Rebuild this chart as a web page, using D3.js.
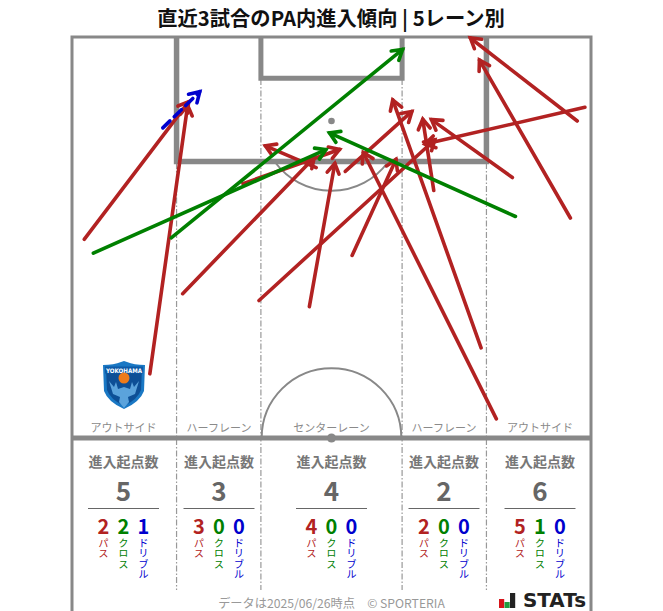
<!DOCTYPE html>
<html><head><meta charset="utf-8">
<script src="https://cdn.jsdelivr.net/npm/d3@7/dist/d3.min.js"></script>
<style>html,body{margin:0;padding:0;background:#fff}svg{display:block}text{font-family:"Noto Sans CJK JP","Noto Sans",sans-serif}</style>
</head><body><svg id="c" width="663" height="611"></svg>
<script>
// pitch metres: x 0-68 across, y 0-52.5 from halfway line to goal line
const passes=[[1.6,26,15.5,44.3],[10.2,8.4,15.2,43.9],[14.5,18.9,32,37],[22.4,33.3,35.4,37.9],[32,35.4,25,38.4],[31.1,17.2,34.5,36.3],[24.5,18,47.8,39.3],[35.8,34.9,44.8,43],[53.6,11.8,41.9,44.6],[55.6,2.5,38,37.7],[36.7,23.9,42.6,36.8],[47.4,32.4,45.9,42.1],[57.7,34.1,46.8,41.9],[67.2,43.3,45.9,38.4],[66.2,41.5,51.9,52.6],[65.3,28.8,53.2,49.8]];
const crosses=[[2.8,24.2,33.6,37.9],[13,26.2,43.6,51.1],[58.1,29,33.4,40.1]];
const dribbles=[[11.9,40.6,17,45.6]];
const laneEdges=[13.7,24.75,43.25,54.3];
const laneNames=["アウトサイド","ハーフレーン","センターレーン","ハーフレーン","アウトサイド"];
const totals=[5,3,4,2,6];
const passCounts=[2,3,4,2,5];
const crossCounts=[2,0,0,0,1];
const dribbleCounts=[1,0,0,0,0];
const kinds=["パス","クロス","ドリブル"];
const kindColors=["#b22222","#008000","#0000cd"];

const x=d3.scaleLinear().domain([0,68]).range([72,591]);
const y=d3.scaleLinear().domain([0,52.5]).range([438,37]);
const unit=x(1)-x(0);
const svg=d3.select("#c");
const gray="#888";

svg.append("text").attr("x",331).attr("y",25.5).attr("text-anchor","middle")
  .attr("font-size",20.3).attr("font-weight",700).attr("fill","#111").text("直近3試合のPA内進入傾向 | 5レーン別");

const pitch=svg.append("g").attr("fill","none").attr("stroke",gray);
laneEdges.forEach((e,i)=>{
  const top=(i===1||i===2)?y(47):y(36);
  pitch.append("line").attr("x1",x(e)).attr("x2",x(e)).attr("y1",top).attr("y2",590)
    .attr("stroke","#999").attr("stroke-width",1.2).attr("stroke-dasharray","6 2 1.5 2");
});
const arc=d3.arc().innerRadius(9.15*unit).outerRadius(9.15*unit);
const ang=Math.acos(5.5/9.15);
pitch.append("path").attr("transform",`translate(${x(34)},${y(41.5)})`).attr("stroke-width",2)
  .attr("d",arc({startAngle:Math.PI-ang,endAngle:Math.PI+ang}));
pitch.append("path").attr("transform",`translate(${x(34)},${y(0)})`).attr("stroke-width",2)
  .attr("d",arc({startAngle:-Math.PI/2,endAngle:Math.PI/2}));
pitch.append("path").attr("stroke-width",5.5).attr("d",`M${x(13.7)},${y(52.5)}V${y(36.2)}H${x(54.3)}V${y(52.5)}`);
pitch.append("path").attr("stroke-width",5).attr("d",`M${x(24.75)},${y(52.5)}V${y(47.1)}H${x(43.25)}V${y(52.5)}`);
pitch.append("path").attr("stroke-width",3).attr("d",`M${x(0)},611V${y(52.5)}H${x(68)}V611`);
pitch.append("line").attr("x1",x(0)).attr("x2",x(68)).attr("y1",y(0)).attr("y2",y(0)).attr("stroke-width",5);
pitch.append("circle").attr("cx",x(34)).attr("cy",y(0)).attr("r",4.5).attr("fill",gray).attr("stroke","none");
pitch.append("circle").attr("cx",x(34)).attr("cy",y(41.5)).attr("r",3.3).attr("fill",gray).attr("stroke","none");

const cx=[123.5,219,331.5,444,540];
laneNames.forEach((n,i)=>svg.append("text").attr("x",cx[i]).attr("y",432).attr("text-anchor","middle")
  .attr("font-size",11).attr("fill","#8a8a8a").text(n));

// badge
const b=svg.append("g").attr("transform","translate(124,385)");
b.append("path").attr("d","M-21,-20 Q-10,-20 -3,-23 L0,-24 L3,-23 Q10,-20 21,-20 L20,6 Q16,17 0,24 Q-16,17 -20,6Z").attr("fill","#1a78c4");
b.append("path").attr("d","M-18,-17 H18 L17,5 Q14,14 0,21 Q-14,14 -17,5Z").attr("fill","#0d4f96");
b.append("rect").attr("x",-19).attr("y",-18.5).attr("width",38).attr("height",7).attr("fill","#0d5aa8");
b.append("text").attr("x",0).attr("y",-12.5).attr("text-anchor","middle").attr("font-size",6.2).attr("font-weight",800).attr("fill","#fff").attr("style","font-family:'DejaVu Sans'").attr("textLength",36).attr("lengthAdjust","spacingAndGlyphs").text("YOKOHAMA");
b.append("path").attr("d","M-15,-4 L-11,9 L-4,12 L-5,17 L0,23 L5,17 L4,12 L11,9 L15,-4 L10,2 L8,-3 L6,4 L0,2 L-6,4 L-8,-3 L-10,2Z").attr("fill","#5ba3dc");
b.append("circle").attr("cx",0).attr("cy",-7).attr("r",5.5).attr("fill","#ee7b1a");

function arrows(data,color,dash){
  const g=svg.append("g").attr("fill","none").attr("stroke",color).attr("stroke-width",3.6);
  data.forEach(d=>{
    const x1=x(d[0]),y1=y(d[1]);
    const a=Math.atan2(y(d[3])-y1,x(d[2])-x1),L=11.5,s=0.55;
    // pull the mitred tip back so its visible point lands on the read value
    const x2=x(d[2])-2.8*Math.cos(a),y2=y(d[3])-2.8*Math.sin(a);
    g.append("line").attr("x1",x1).attr("y1",y1).attr("x2",x2).attr("y2",y2).attr("stroke-linecap","round").attr("stroke-dasharray",dash||null);
    g.append("path").attr("stroke-linejoin","miter").attr("stroke-linecap","round")
      .attr("d",`M${x2-L*Math.cos(a-s)},${y2-L*Math.sin(a-s)}L${x2},${y2}L${x2-L*Math.cos(a+s)},${y2-L*Math.sin(a+s)}`);
  });
}
arrows(passes,"#b22222");
arrows(crosses,"#008000");
arrows(dribbles,"#0000cd","10 6");

totals.forEach((t,i)=>{
  const c=cx[i];
  svg.append("text").attr("x",c).attr("y",467).attr("text-anchor","middle").attr("font-size",14).attr("font-weight",700).attr("fill","#777").text("進入起点数");
  svg.append("text").attr("x",c).attr("y",501).attr("text-anchor","middle").attr("font-size",26).attr("font-weight",700).attr("fill","#666").text(t);
  svg.append("line").attr("x1",c-35.5).attr("x2",c+35.5).attr("y1",508.5).attr("y2",508.5).attr("stroke","#666").attr("stroke-width",1);
  [passCounts[i],crossCounts[i],dribbleCounts[i]].forEach((v,j)=>{
    const px=c-20+j*20;
    svg.append("text").attr("x",px).attr("y",534).attr("text-anchor","middle").attr("font-size",20).attr("font-weight",700).attr("fill",kindColors[j]).text(v);
    svg.append("text").attr("transform",`translate(${px},538)`).attr("writing-mode","vertical-rl").attr("font-size",10.3).attr("fill",kindColors[j]).text(kinds[j]);
  });
});

svg.append("text").attr("x",331.5).attr("y",608).attr("text-anchor","middle").attr("font-size",12.2).attr("fill","#999").text("データは2025/06/26時点　© SPORTERIA");
const logoH=[9,6,15];
const logoC=["#d7141a","#1f9e3f","#222"];
logoH.forEach((h,i)=>svg.append("rect").attr("x",499+i*5.5).attr("y",608-h).attr("width",5.2).attr("height",h).attr("fill",logoC[i]));
svg.append("text").attr("x",523).attr("y",607).attr("font-size",19).attr("font-weight",700).attr("fill","#222").attr("style","font-family:'DejaVu Sans'").attr("textLength",63).attr("lengthAdjust","spacingAndGlyphs").text("STATs");
</script></body></html>
